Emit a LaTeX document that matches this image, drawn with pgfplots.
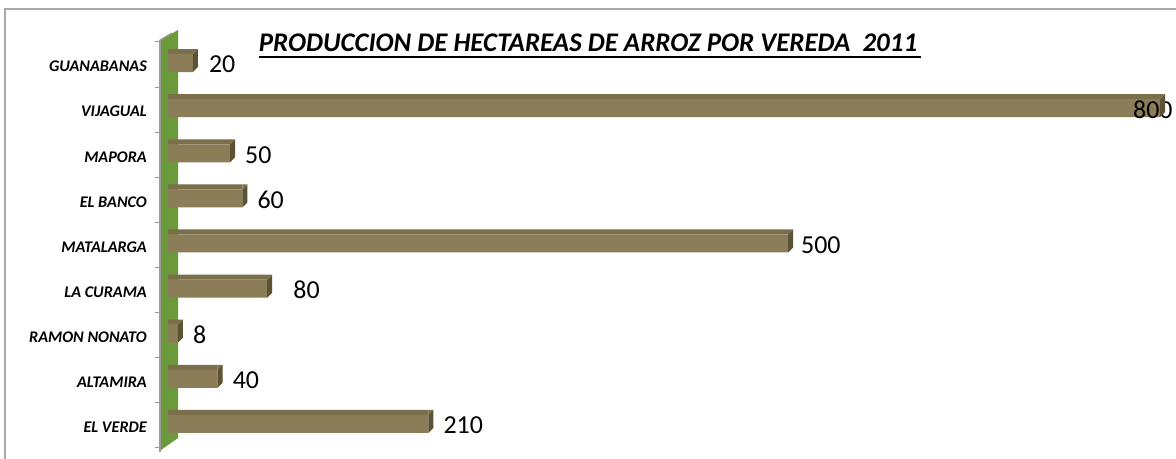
\documentclass[border=0pt]{standalone}
\usepackage{pgfplots}
\pgfplotsset{compat=1.18}
\usepackage{pgfplotstable}
\usepackage{fontspec}
\setmainfont{Carlito}
\definecolor{barfront}{HTML}{8B7D57}
\definecolor{bartop}{HTML}{7A6E4B}
\definecolor{barside}{HTML}{5C5334}
\definecolor{wallgreen}{HTML}{6A9A3A}
\definecolor{axgray}{HTML}{9A9A9A}

\pgfdeclareplotmark{side3d}{%
 \pgfpathmoveto{\pgfpoint{0bp}{-7.5bp}}%
 \pgfpathlineto{\pgfpoint{5bp}{-2.5bp}}%
 \pgfpathlineto{\pgfpoint{5bp}{15.5bp}}%
 \pgfpathlineto{\pgfpoint{0bp}{10.5bp}}%
 \pgfpathclose
 \pgfsetfillcolor{barside}%
 \pgfusepath{fill}%
 \pgfpathmoveto{\pgfpoint{0bp}{10.5bp}}%
 \pgfpathlineto{\pgfpoint{5bp}{15.5bp}}%
 \pgfpathlineto{\pgfpoint{0bp}{15.5bp}}%
 \pgfpathclose
 \pgfsetfillcolor{bartop}%
 \pgfusepath{fill}%
}

\pgfplotstableread{
y x s
0 210 15
1 40 15
2 8 15
3 80 26
4 500 13
5 60 15
6 50 15
7 800 -27
8 20 16
}\datatab

\begin{document}
\begin{tikzpicture}[x=1bp,y=1bp]
\useasboundingbox (0,0) rectangle (1176,459);
\fill[white] (0,0) rectangle (1176,459);
\draw[axgray!85, line width=1.3bp] (5,-10) rectangle (1200,450);
% back wall
\fill[wallgreen] (161,419) -- (178,429) -- (178,21) -- (161,9) -- cycle;
\draw[axgray, line width=1.2bp] (160,419) -- (160,7);
\draw[axgray, line width=1.2bp] (160,419) -- (172,426);
\foreach \k in {0,...,9} {
  \draw[axgray, line width=1bp] (155,{11+\k*45.11}) -- (160,{11+\k*45.11});
}
\begin{axis}[
  at={(168bp,11bp)}, anchor=south west,
  scale only axis, width=992bp, height=406bp,
  xmin=0, xmax=800, ymin=-0.5, ymax=8.5,
  axis line style={draw=none},
  xtick=\empty,
  ytick={0,...,8},
  yticklabels={EL VERDE,ALTAMIRA,RAMON NONATO,LA CURAMA,MATALARGA,EL BANCO,MAPORA,VIJAGUAL,GUANABANAS},
  major tick length=0pt,
  tick style={draw=none},
  yticklabel style={font=\fontsize{16.3}{19}\selectfont\bfseries\itshape, inner sep=0pt, anchor=east, xshift=-21bp, yshift=-2bp},
  clip=false,
]
\addplot[xbar, bar width=5bp, bar shift=13bp, fill=bartop, draw=none] table[x=x,y=y]{\datatab};
\addplot[xbar, bar width=18bp, bar shift=1.5bp, fill=barfront, draw=none,
  nodes near coords, point meta=explicit symbolic,
  visualization depends on={\thisrow{s} \as \lbl},
  every node near coord/.append style={anchor=west, inner sep=0pt, xshift={\lbl*1bp}, yshift=0bp, font=\fontsize{26}{30}\selectfont, text=black}]
  table[x=x,y=y,meta=x]{\datatab};
\addplot[only marks, mark=side3d] table[x=x,y=y]{\datatab};
\end{axis}
\node[font=\fontsize{27}{32}\selectfont\bfseries\itshape, anchor=base, inner sep=0pt] (t) at (588,407) {PRODUCCION DE HECTAREAS DE ARROZ POR VEREDA\ \ 2011};
\draw[black, line width=1.7bp] ([yshift=-5bp]t.base west) -- ([yshift=-5bp,xshift=4bp]t.base east);
\end{tikzpicture}
\end{document}
